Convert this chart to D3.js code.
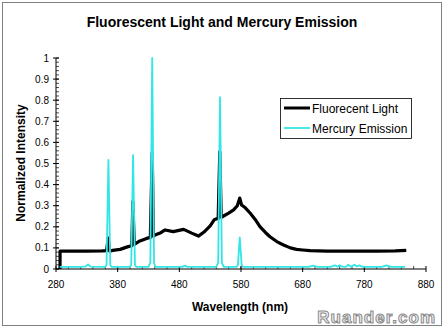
<!DOCTYPE html>
<html><head><meta charset="utf-8">
<script src="https://cdn.jsdelivr.net/npm/d3@7"></script>
<style>body{margin:0;background:#fff}svg{display:block}text{font-family:"Liberation Sans",Arial,sans-serif}</style>
</head><body><svg id="c" width="444" height="330"></svg>
<script>
// Fluorescent light spectrum [wavelength nm, normalized intensity]
const fluorWl  = [286.5,286.6,300,330,355,362,364.6,367,372,384,397,403,404.6,407,416,427,433,436,438,440.5,450,457,470,487,500,511,520,530,537,543,545.6,548,551,560,568,574,578,581,587,595,603,611,620,627,638,649,660,670,680,692,720,760,800,830,848];
const fluorVal = [0,0.085,0.085,0.085,0.086,0.087,0.147,0.085,0.088,0.093,0.106,0.11,0.32,0.117,0.133,0.145,0.15,0.55,0.155,0.161,0.172,0.185,0.177,0.188,0.17,0.156,0.175,0.204,0.235,0.24,0.556,0.245,0.25,0.265,0.28,0.3,0.336,0.303,0.29,0.264,0.235,0.2,0.172,0.153,0.13,0.114,0.1,0.093,0.09,0.087,0.085,0.085,0.085,0.086,0.088];
// Mercury emission spectrum
const mercWl  = [286,320,328,332,336,360,362,365,368,370,400,402,405,408,410,430,433,436,439,441,485,489,493,540,543,546,549,552,573,575,578,581,583,690,697,704,725,732,737,740,744,750,754,758,764,768,772,776,780,808,816,824,846];
const mercVal = [0.01,0.01,0.012,0.022,0.011,0.01,0.02,0.517,0.02,0.01,0.01,0.02,0.54,0.02,0.01,0.01,0.03,1.0,0.03,0.01,0.01,0.016,0.01,0.01,0.03,0.815,0.03,0.01,0.01,0.02,0.15,0.02,0.01,0.01,0.016,0.01,0.01,0.017,0.011,0.018,0.011,0.01,0.02,0.011,0.02,0.012,0.017,0.011,0.01,0.01,0.017,0.01,0.01];
const xTicks = [280,380,480,580,680,780,880];
const yTicks = [0,0.1,0.2,0.3,0.4,0.5,0.6,0.7,0.8,0.9,1];
const yLabels = ["0","0.1","0.2","0.3","0.4","0.5","0.6","0.7","0.8","0.9","1"];
const seriesNames = ["Fluorecent Light","Mercury Emission"];
const seriesColors = ["#000000","#33e6e6"];

const svg = d3.select("#c");
const x = d3.scaleLinear().domain([280,880]).range([56,426]);
const y = d3.scaleLinear().domain([0,1]).range([269,58]);

// frame
svg.append("rect").attr("x",2.5).attr("y",2.5).attr("width",439).attr("height",323)
  .attr("fill","#fff").attr("stroke","#808080").attr("stroke-width",1);

svg.append("text").attr("x",222).attr("y",27).attr("text-anchor","middle")
  .attr("font-size",14).attr("font-weight","bold").text("Fluorescent Light and Mercury Emission");

// axes
const xa = svg.append("g").attr("transform","translate(0,269)");
xa.append("line").attr("x1",x(280)).attr("x2",x(880)).attr("stroke","#000");
xa.selectAll("line.mi").data(d3.range(300,880,20)).join("line").attr("class","mi")
  .attr("x1",d=>x(d)).attr("x2",d=>x(d)).attr("y1",-3).attr("y2",0).attr("stroke","#000").attr("stroke-width",0.7);
xa.selectAll("line.ma").data(xTicks).join("line").attr("class","ma")
  .attr("x1",d=>x(d)).attr("x2",d=>x(d)).attr("y1",-3).attr("y2",3).attr("stroke","#000");
xa.selectAll("text").data(xTicks).join("text").attr("x",d=>x(d)).attr("y",19)
  .attr("text-anchor","middle").attr("font-size",10).text(d=>d);

const ya = svg.append("g").attr("transform","translate(56,0)");
ya.append("line").attr("y1",y(0)).attr("y2",y(1)).attr("stroke","#000");
ya.selectAll("line.mi").data(d3.range(0,1.001,0.02)).join("line").attr("class","mi")
  .attr("y1",d=>y(d)).attr("y2",d=>y(d)).attr("x1",0).attr("x2",3).attr("stroke","#000").attr("stroke-width",0.7);
ya.selectAll("line.ma").data(yTicks).join("line").attr("class","ma")
  .attr("y1",d=>y(d)).attr("y2",d=>y(d)).attr("x1",-3).attr("x2",3).attr("stroke","#000");
ya.selectAll("text").data(yTicks).join("text").attr("x",-7).attr("y",d=>y(d)+3.5)
  .attr("text-anchor","end").attr("font-size",10).text((d,i)=>yLabels[i]);

svg.append("text").attr("transform","translate(25,163) rotate(-90)").attr("text-anchor","middle")
  .attr("font-size",12).attr("font-weight","bold").text("Normalized Intensity");
svg.append("text").attr("x",240).attr("y",311).attr("text-anchor","middle")
  .attr("font-size",12).attr("font-weight","bold").text("Wavelength (nm)");

const line = d3.line().x(d=>x(d[0])).y(d=>y(d[1]));
svg.append("path").datum(d3.zip(fluorWl,fluorVal)).attr("d",line)
  .attr("fill","none").attr("stroke",seriesColors[0]).attr("stroke-width",3.2).attr("stroke-linejoin","round");
svg.append("path").datum(d3.zip(mercWl,mercVal)).attr("d",line)
  .attr("fill","none").attr("stroke",seriesColors[1]).attr("stroke-width",1.8).attr("stroke-linejoin","round");

// legend
const lg = svg.append("g");
lg.append("rect").attr("x",280.5).attr("y",98.5).attr("width",131).attr("height",40)
  .attr("fill","#fff").attr("stroke","#000").attr("stroke-width",0.8);
seriesNames.forEach((n,i)=>{
  const yy = 108 + i*20;
  lg.append("line").attr("x1",284).attr("x2",310).attr("y1",yy).attr("y2",yy)
    .attr("stroke",seriesColors[i]).attr("stroke-width",i===0?3:1.8);
  lg.append("text").attr("x",312).attr("y",yy+4.5).attr("font-size",12).text(n);
});

// watermark
svg.append("text").attr("x",436).attr("y",323).attr("text-anchor","end")
  .attr("font-size",17).attr("font-weight","bold").attr("letter-spacing",1)
  .attr("fill","#f4f4f4").attr("stroke","#8a8a8a").attr("stroke-width",1).text("Ruander.com");
</script></body></html>
